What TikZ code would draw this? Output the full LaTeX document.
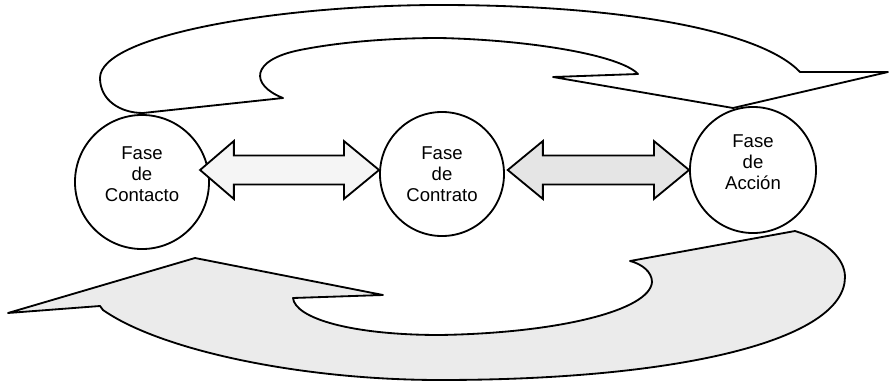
\documentclass[tikz,border=0pt]{standalone}
\usepackage{fontspec}
\setmainfont{Liberation Sans}
\usetikzlibrary{calc}

\begin{document}
\begin{tikzpicture}[x=0.025cm, y=-0.025cm,
  phase/.style={circle, draw, line width=1.3pt, minimum size=#1, inner sep=0pt},
  phasetext/.style={align=center, font=\fontsize{13.2}{14.9}\selectfont},
  loop/.style={draw, line width=1.3pt, line join=round, fill=#1},
  twoway/.style={draw, line width=1.3pt, line join=miter, fill=#1}
]
  \useasboundingbox (0,0) rectangle (890,382);

  % Loop arrows
  \path[loop=white] (888,72) -- (800,72)
    .. controls (760,30) and (620,5) .. (440,5)
    .. controls (280,5) and (100,35) .. (100,78)
    .. controls (100,100) and (120,113) .. (143,113)
    -- (283,98)
    .. controls (250,85) and (250,60) .. (300,50)
    .. controls (340,42) and (390,38) .. (440,38)
    .. controls (530,40) and (620,55) .. (638,74)
    -- (553,77) -- (733,108) -- cycle;
  \path[loop=black!8] (8,313) -- (195,258) -- (383,295) -- (293,298)
    .. controls (295,318) and (350,335) .. (440,335)
    .. controls (560,333) and (650,310) .. (652,282)
    .. controls (652,272) and (642,264) .. (630,261)
    -- (795,231)
    .. controls (825,240) and (845,258) .. (845,277)
    .. controls (845,340) and (680,380) .. (440,380)
    .. controls (300,380) and (160,350) .. (103,310)
    -- (100,306) -- cycle;

  % Phases
  \node[phase=3.35cm] (contacto) at (142,182) {};
  \node[phase=3.1cm] (contrato) at (442,174) {};
  \node[phase=3.15cm] (accion) at (753,170) {};
  \node[phasetext] at ([yshift=5.5pt]contacto) {Fase\\de\\Contacto};
  \node[phasetext] at (contrato) {Fase\\de\\Contrato};
  \node[phasetext] at ([yshift=5.3pt]accion) {Fase\\de\\Acción};

  % Two-way arrows
  \coordinate (axis) at (0,170);
  \path[twoway=black!4] let \p1=(contacto.east), \p2=(contrato.west), \p3=(axis) in
    (\x1-7pt,\y3) -- ++(24pt,20.6pt) -- ++(0,-10.3pt) -- (\x2-25pt,\y3+10.3pt)
    -- ++(0,10.3pt) -- (\x2,\y3) -- ++(-25pt,-20.6pt) -- ++(0,10.3pt)
    -- (\x1+17pt,\y3-10.3pt) -- ++(0,-10.3pt) -- cycle;
  \path[twoway=black!10] let \p1=(contrato.east), \p2=(accion.west), \p3=(axis) in
    (\x1+2pt,\y3) -- ++(25pt,20.6pt) -- ++(0,-10.3pt) -- (\x2-25pt,\y3+10.3pt)
    -- ++(0,10.3pt) -- (\x2,\y3) -- ++(-25pt,-20.6pt) -- ++(0,10.3pt)
    -- (\x1+27pt,\y3-10.3pt) -- ++(0,-10.3pt) -- cycle;
\end{tikzpicture}
\end{document}
